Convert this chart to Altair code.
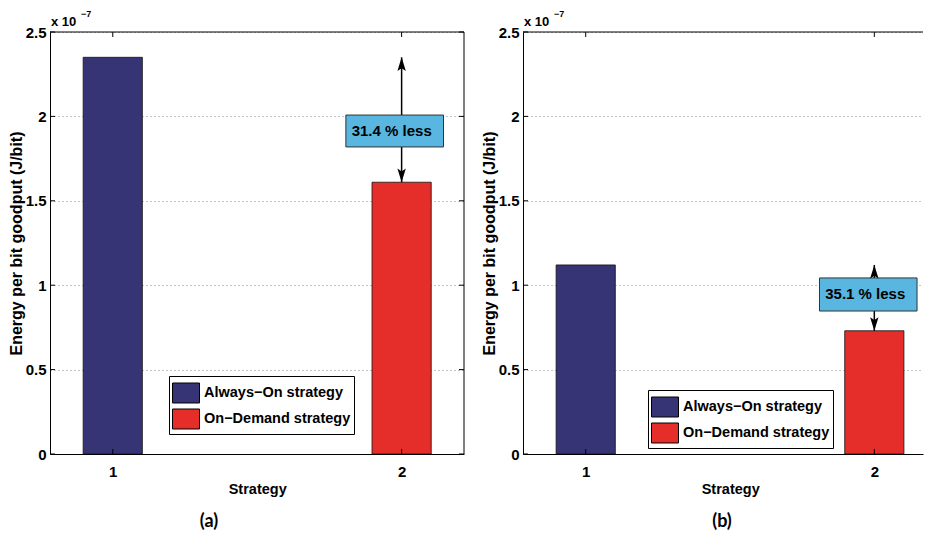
import altair as alt
import pandas as pd

# ---------------- data ----------------
strategy = [1, 2]
series = ["Always\u2212On strategy", "On\u2212Demand strategy"]
energy_a = [2.35, 1.61]          # x 1e-7 J/bit
energy_b = [1.12, 0.73]          # x 1e-7 J/bit
less_a = "31.4 % less"
less_b = "35.1 % less"
y_ticks = [0, 0.5, 1, 1.5, 2, 2.5]
x_ticks = [1, 2]
captions = ["(a)", "(b)"]

# ---------------- style ----------------
FONT = "Liberation Sans, Arial, sans-serif"
CAP_FONT = "Lato, Open Sans, sans-serif"
BLUE = "#363474"
RED = "#e52e29"
BOXC = "#58b6e0"
H = 422
PX_PER_UNIT = 296
ARROW_UP = "M0,-1L0.6,0.95L0,0.55L-0.6,0.95Z"
RECT_SYM = "M-1,-0.74L1,-0.74L1,0.74L-1,0.74Z"


def panel(values, less, box, width, legend_xy, caption, caption_x, cropped):
    xmax = 0.8 + width / PX_PER_UNIT
    xs = alt.Scale(domain=[0.8, xmax], nice=False, zero=False)
    ys = alt.Scale(domain=[0, 2.5], nice=False, zero=False)
    x_axis = alt.Axis(values=x_ticks, title="Strategy", grid=False, ticks=False,
                      format="~g", labelPadding=10, titlePadding=3,
                      titleX=(1.5 - 0.8) * PX_PER_UNIT, titleAnchor=None)
    y_axis = alt.Axis(values=y_ticks, title="Energy per bit goodput (J/bit)",
                      grid=True, gridDash=[1, 3], gridColor="#888", gridWidth=1,
                      ticks=False, format="~g", labelPadding=4,
                      titleFontSize=16, titleX=-29, titleY=H / 2,
                      titleBaseline="alphabetic")

    def X(f):
        return alt.X(f, scale=xs, axis=x_axis)

    def Y(f):
        return alt.Y(f, scale=ys, axis=y_axis)

    df = pd.DataFrame({"strategy": strategy, "series": series, "energy": values})
    bar_px = 0.2 * PX_PER_UNIT

    bars = alt.Chart(df).mark_bar(size=bar_px, stroke="#111", strokeWidth=0.8, clip=True).encode(
        x=X("strategy:Q"),
        y=Y("energy:Q"),
        color=alt.Color("series:N", scale=alt.Scale(domain=series, range=[BLUE, RED]),
                        legend=alt.Legend(orient="none", legendX=legend_xy[0], legendY=legend_xy[1],
                                          title=None, symbolType=RECT_SYM, symbolSize=729,
                                          symbolStrokeColor="black", symbolStrokeWidth=1,
                                          symbolOpacity=1, labelLimit=300,
                                          labelFont=FONT, labelFontSize=14.5, labelFontWeight="bold",
                                          labelColor="black", labelOffset=4, rowPadding=0,
                                          strokeColor="black", fillColor="white", padding=3)),
    )

    # frame + inner ticks (MATLAB style)
    tdf_y = pd.DataFrame({"energy": y_ticks})
    tdf_x = pd.DataFrame({"strategy": x_ticks})
    layers = [bars]
    layers.append(alt.Chart(tdf_y).mark_rule(color="black").encode(
        y=Y("energy:Q"), x=alt.value(0), x2=alt.value(5)))
    layers.append(alt.Chart(tdf_x).mark_rule(color="black").encode(
        x=X("strategy:Q"), y=alt.value(H - 5), y2=alt.value(H)))
    layers.append(alt.Chart(tdf_x).mark_rule(color="black").encode(
        x=X("strategy:Q"), y=alt.value(0), y2=alt.value(5)))
    one = pd.DataFrame({"a": [0]})
    layers.append(alt.Chart(one).mark_rule(color="black", strokeWidth=1).encode(
        x=alt.value(0), x2=alt.value(width), y=alt.value(0)))
    if not cropped:
        layers.append(alt.Chart(tdf_y).mark_rule(color="black").encode(
            y=Y("energy:Q"), x=alt.value(width - 5), x2=alt.value(width)))
        layers.append(alt.Chart(one).mark_rule(color="black", strokeWidth=1).encode(
            x=alt.value(width), y=alt.value(0), y2=alt.value(H)))

    # annotation arrow between the two bar tops, at strategy 2
    adf = pd.DataFrame({"strategy": [strategy[1]], "energy": [values[1]], "hi": [values[0]]})
    layers.append(alt.Chart(adf).mark_rule(color="black", strokeWidth=1.5).encode(
        x=X("strategy:Q"), y=Y("energy:Q"), y2="hi:Q"))

    bdf = pd.DataFrame({"strategy": [box[0]], "x1": [box[1]], "energy": [box[2]], "y1": [box[3]],
                        "xc": [(box[0] + box[1]) / 2], "yc": [(box[2] + box[3]) / 2],
                        "label": [less]})
    layers.append(alt.Chart(bdf).mark_rect(fill=BOXC, stroke="#333", strokeWidth=1, clip=True).encode(
        x=X("strategy:Q"), x2="x1:Q", y=Y("energy:Q"), y2="y1:Q"))
    layers.append(alt.Chart(bdf).mark_text(font=FONT, fontSize=15, fontWeight="bold",
                                           color="black", baseline="middle", align="center",
                                           dx=-3).encode(
        x=X("xc:Q"), y=Y("yc:Q"), text="label:N"))
    layers.append(alt.Chart(adf).mark_point(shape=ARROW_UP, filled=True, fill="black",
                                            strokeWidth=0, size=196, opacity=1).encode(
        x=X("strategy:Q"), y=Y("hi:Q"), yOffset=alt.value(7)))
    layers.append(alt.Chart(adf).mark_point(shape=ARROW_UP, filled=True, fill="black",
                                            strokeWidth=0, size=196, opacity=1, angle=180).encode(
        x=X("strategy:Q"), y=Y("energy:Q"), yOffset=alt.value(-7)))

    # exponent label and caption
    layers.append(alt.Chart(one).mark_text(text="x 10", font=FONT, fontSize=13, fontWeight="bold",
                                           align="left", baseline="alphabetic", color="black").encode(
        x=alt.value(1), y=alt.value(-6)))
    layers.append(alt.Chart(one).mark_text(text="\u22127", font=FONT, fontSize=9, fontWeight="bold",
                                           align="left", baseline="alphabetic", color="black").encode(
        x=alt.value(31), y=alt.value(-15)))
    layers.append(alt.Chart(one).mark_text(text=caption, font=CAP_FONT, fontSize=18, fontWeight="bold",
                                           align="center", baseline="middle", color="black").encode(
        x=alt.value(caption_x), y=alt.value(H + 68)))

    return alt.layer(*layers).properties(width=width, height=H)


pa = panel(energy_a, less_a, (1.807, 2.145, 1.819, 2.008), 414, (119, 344), captions[0], 159, False)
pb = panel(energy_b, less_b, (1.81, 2.148, 0.847, 1.043), 400, (125, 358), captions[1], 199, True)

chart = alt.hconcat(pa, pb, spacing=16).resolve_scale(color="independent").resolve_legend(
    color="independent"
).configure(
    padding={"top": 2, "left": 0, "right": 0, "bottom": 0}
).configure_view(
    stroke="transparent", strokeWidth=0
).configure_axis(
    labelFont=FONT, labelFontSize=15, labelFontWeight="bold", labelColor="black",
    titleFont=FONT, titleFontSize=14.5, titleFontWeight="bold", titleColor="black",
    domainColor="black", domainWidth=1
)

chart.save("out.html", embed_options={"renderer": "svg", "actions": False})
